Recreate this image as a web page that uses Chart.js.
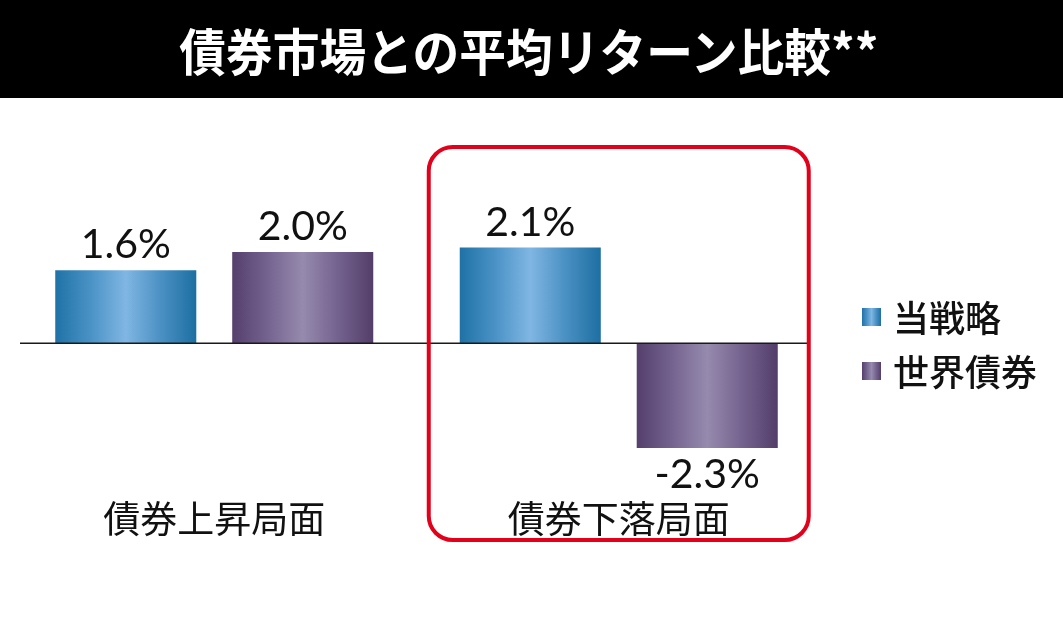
<!DOCTYPE html>
<html lang="ja">
<head>
<meta charset="utf-8">
<title>債券市場との平均リターン比較</title>
<script src="https://cdn.jsdelivr.net/npm/chart.js@4.4.1/dist/chart.umd.min.js"></script>
<style>
  html, body { margin: 0; padding: 0; background: #fff; }
  #wrap { position: relative; width: 1063px; height: 637px; overflow: hidden; }
  #title-bar {
    position: absolute; left: 0; top: 0; width: 1063px; height: 98px;
    background: #000; display: flex; align-items: center; justify-content: center; z-index: 2;
  }
  #title-bar h1 {
    margin: 0 0 0 -6px; color: #fff; white-space: nowrap;
    font: bold 50px "Noto Sans CJK JP", sans-serif;
    transform: scaleX(0.935);
  }
  #chart { position: absolute; left: 0; top: 0; }
</style>
</head>
<body>
<div id="wrap">
  <div id="title-bar"><h1>債券市場との平均リターン比較**</h1></div>
  <canvas id="chart" width="1063" height="637"></canvas>
</div>
<script>
/* data */
const CATEGORIES = ["債券上昇局面", "債券下落局面"];
const SERIES_NAMES = ["当戦略", "世界債券"];
const STRATEGY = [1.6, 2.1];
const WORLD_BOND = [2.0, -2.3];

const NUM_FONT = "Lato, 'Open Sans', sans-serif";
const JP_FONT = "'Noto Sans CJK JP', sans-serif";

// horizontal "metal" gradient stops per series
const STOPS = [
  ["#1f72a6", "#4a92c6", "#80b6e3", "#4a90c3", "#1d6fa2"],
  ["#553f6c", "#74638f", "#968aae", "#74628e", "#533e69"],
];

function metalGradient(ctx, x0, x1, stops) {
  const g = ctx.createLinearGradient(x0, 0, x1, 0);
  stops.forEach((c, i) => g.addColorStop(i / (stops.length - 1), c));
  return g;
}

/* ── gradient fill for each bar ───────────────────────── */
const gradientBars = {
  id: "gradientBars",
  beforeDatasetsDraw(chart) {
    const ctx = chart.ctx;
    chart.data.datasets.forEach((ds, i) => {
      chart.getDatasetMeta(i).data.forEach((el) => {
        const { x, width } = el.getProps(["x", "width"], true);
        const g = metalGradient(ctx, x - width / 2, x + width / 2, STOPS[i]);
        el.options = Object.assign({}, el.options, { backgroundColor: g });
      });
    });
  },
};

/* ── zero line + value labels ─────────────────────────── */
const valueLabels = {
  id: "valueLabels",
  afterDatasetsDraw(chart) {
    const ctx = chart.ctx;
    const y0 = chart.scales.y.getPixelForValue(0);
    ctx.save();
    ctx.strokeStyle = "#1a1a1a";
    ctx.lineWidth = 1.5;
    ctx.beginPath();
    ctx.moveTo(20, y0);
    ctx.lineTo(808, y0);
    ctx.stroke();

    ctx.fillStyle = "#111";
    ctx.font = `41px ${NUM_FONT}`;
    ctx.textAlign = "center";
    ctx.textBaseline = "alphabetic";
    chart.data.datasets.forEach((ds, i) => {
      chart.getDatasetMeta(i).data.forEach((el, j) => {
        const v = ds.data[j];
        const txt = v.toFixed(1) + "%";
        const y = v >= 0 ? el.y - 12 : el.y + 40;
        ctx.fillText(txt, el.x, y);
      });
    });
    ctx.restore();
  },
};

/* ── red highlight box + legend ───────────────────────── */
const decorations = {
  id: "decorations",
  afterDraw(chart) {
    const ctx = chart.ctx;
    const cx = chart.scales.x.getPixelForValue(1);
    const l = cx - 190, r = cx + 190, t = 147, b = 540, rad = 24;
    ctx.save();
    ctx.strokeStyle = "#e2001a";
    ctx.lineWidth = 4;
    ctx.beginPath();
    ctx.moveTo(l + rad, t);
    ctx.arcTo(r, t, r, b, rad);
    ctx.arcTo(r, b, l, b, rad);
    ctx.arcTo(l, b, l, t, rad);
    ctx.arcTo(l, t, r, t, rad);
    ctx.closePath();
    ctx.stroke();

    // legend
    const rows = [317, 371];
    ctx.font = `500 36px ${JP_FONT}`;
    ctx.textAlign = "left";
    ctx.textBaseline = "middle";
    chart.data.datasets.forEach((ds, i) => {
      const cy = rows[i];
      ctx.fillStyle = metalGradient(ctx, 862, 881, STOPS[i]);
      ctx.fillRect(862, cy - 9, 19, 18);
      ctx.fillStyle = "#111";
      ctx.fillText(ds.label, 893, cy + 1);
    });
    ctx.restore();
  },
};

new Chart(document.getElementById("chart"), {
  type: "bar",
  data: {
    labels: CATEGORIES,
    datasets: [
      { label: SERIES_NAMES[0], data: STRATEGY, backgroundColor: STOPS[0][2], borderWidth: 0 },
      { label: SERIES_NAMES[1], data: WORLD_BOND, backgroundColor: STOPS[1][2], borderWidth: 0 },
    ],
  },
  options: {
    responsive: false,
    animation: false,
    events: [],
    categoryPercentage: 0.875,
    barPercentage: 0.797,
    layout: { padding: { left: 12, right: 242, top: 161, bottom: 68 } },
    plugins: { legend: { display: false }, tooltip: { enabled: false } },
    scales: {
      y: { display: false, min: -3.2, max: 4 },
      x: {
        grid: { display: false, drawTicks: false },
        border: { display: false },
        ticks: { color: "#111", padding: 8, font: { family: JP_FONT, size: 37 } },
        afterFit: (scale) => { scale.height = 80; },
      },
    },
  },
  plugins: [gradientBars, valueLabels, decorations],
});
</script>
</body>
</html>
